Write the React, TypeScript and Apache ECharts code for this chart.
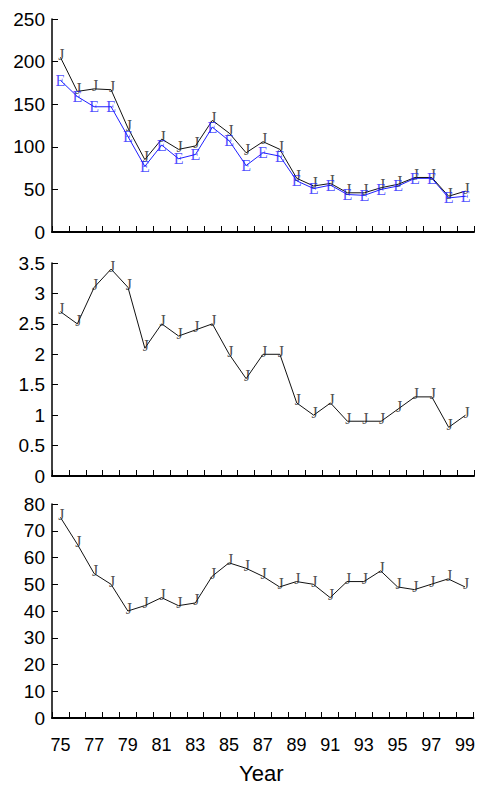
import React, { useEffect, useRef } from "react";
import * as echarts from "echarts";

// Years on the shared horizontal axis
const years = [
  "75", "76", "77", "78", "79", "80", "81", "82", "83", "84", "85", "86", "87",
  "88", "89", "90", "91", "92", "93", "94", "95", "96", "97", "98", "99",
];

// Top panel: two series (J and E markers)
const topJ = [205, 165, 168, 167, 122, 85, 109, 97, 101, 131, 116, 93, 106, 97, 63, 54, 57, 46, 46, 52, 56, 64, 64, 42, 48];
const topE = [178, 159, 147, 147, 112, 77, 102, 86, 91, 123, 107, 78, 93, 89, 60, 51, 55, 44, 43, 50, 54, 63, 63, 40, 42];

// Middle panel
const midJ = [2.7, 2.5, 3.1, 3.4, 3.1, 2.1, 2.5, 2.3, 2.4, 2.5, 2.0, 1.6, 2.0, 2.0, 1.2, 1.0, 1.2, 0.9, 0.9, 0.9, 1.1, 1.3, 1.3, 0.8, 1.0];

// Bottom panel
const lowJ = [75, 65, 54, 50, 40, 42, 45, 42, 43, 53, 58, 56, 53, 49, 51, 50, 45, 51, 51, 55, 49, 48, 50, 52, 49];

// Y axis ranges per panel
const yMax = [250, 3.5, 80];
const yStep = [50, 0.5, 10];

const SANS = "Liberation Sans, Arial, sans-serif";
const SERIF = "Liberation Serif, Times New Roman, serif";
const BLUE = "#1f1fff";

const GRID_LEFT = 52;
const GRID_WIDTH = 422;
const gridTops = [19, 263, 504];
const gridHeights = [213, 213, 214];

function markerSeries(data: number[], idx: number, glyph: string, color: string, offset: number[]) {
  return {
    type: "scatter",
    xAxisIndex: idx,
    yAxisIndex: idx,
    data,
    symbol: "circle",
    symbolSize: 1,
    silent: true,
    itemStyle: { color: "rgba(0,0,0,0)" },
    label: {
      show: true,
      position: "inside",
      formatter: glyph,
      fontFamily: SERIF,
      fontSize: 16,
      color,
      offset,
    },
    z: 3,
  };
}

function lineSeries(data: number[], idx: number, color: string) {
  return {
    type: "line",
    xAxisIndex: idx,
    yAxisIndex: idx,
    data,
    symbol: "none",
    silent: true,
    lineStyle: { color, width: 1 },
    z: 2,
  };
}

export default function App() {
  const ref = useRef<HTMLDivElement>(null);

  useEffect(() => {
    if (!ref.current) return;
    const chart = echarts.init(ref.current, null, { renderer: "svg" });

    const grids = gridTops.map((top, i) => ({
      left: GRID_LEFT,
      top,
      width: GRID_WIDTH,
      height: gridHeights[i],
      containLabel: false,
    }));

    const xAxes = gridTops.map((_, i) => ({
      type: "category",
      gridIndex: i,
      data: years,
      boundaryGap: true,
      axisLine: { show: true, lineStyle: { color: "#000", width: 2 } },
      axisTick: { show: true, inside: true, length: 6, interval: 0, lineStyle: { color: "#000", width: 1 } },
      axisLabel: {
        show: i === 2,
        interval: 1,
        margin: 18,
        fontFamily: SANS,
        fontSize: 18,
        color: "#000",
      },
      splitLine: { show: false },
    }));

    const yAxes = gridTops.map((_, i) => ({
      type: "value",
      gridIndex: i,
      min: 0,
      max: yMax[i],
      interval: yStep[i],
      axisLine: { show: true, lineStyle: { color: "#000", width: 1.5 } },
      axisTick: { show: true, inside: true, length: 6, lineStyle: { color: "#000", width: 1 } },
      axisLabel: { margin: 7, fontFamily: SANS, fontSize: 19, color: "#000" },
      splitLine: { show: false },
    }));

    chart.setOption({
      animation: false,
      backgroundColor: "#fff",
      grid: grids,
      xAxis: xAxes,
      yAxis: yAxes,
      graphic: [
        {
          type: "text",
          left: GRID_LEFT + GRID_WIDTH / 2 - 24,
          top: 762,
          style: { text: "Year", fontFamily: SANS, fontSize: 22, fill: "#000" },
        },
      ],
      series: [
        lineSeries(topE, 0, BLUE),
        lineSeries(topJ, 0, "#111"),
        markerSeries(topJ, 0, "J", "#222", [1, -3]),
        markerSeries(topE, 0, "E", BLUE, [0, 0]),
        lineSeries(midJ, 1, "#111"),
        markerSeries(midJ, 1, "J", "#222", [1, -3]),
        lineSeries(lowJ, 2, "#111"),
        markerSeries(lowJ, 2, "J", "#222", [1, -3]),
      ],
    });

    return () => chart.dispose();
  }, []);

  return (
    <div
      ref={ref}
      style={{ position: "absolute", left: 0, top: 0, width: 478, height: 792, background: "#fff" }}
    />
  );
}
